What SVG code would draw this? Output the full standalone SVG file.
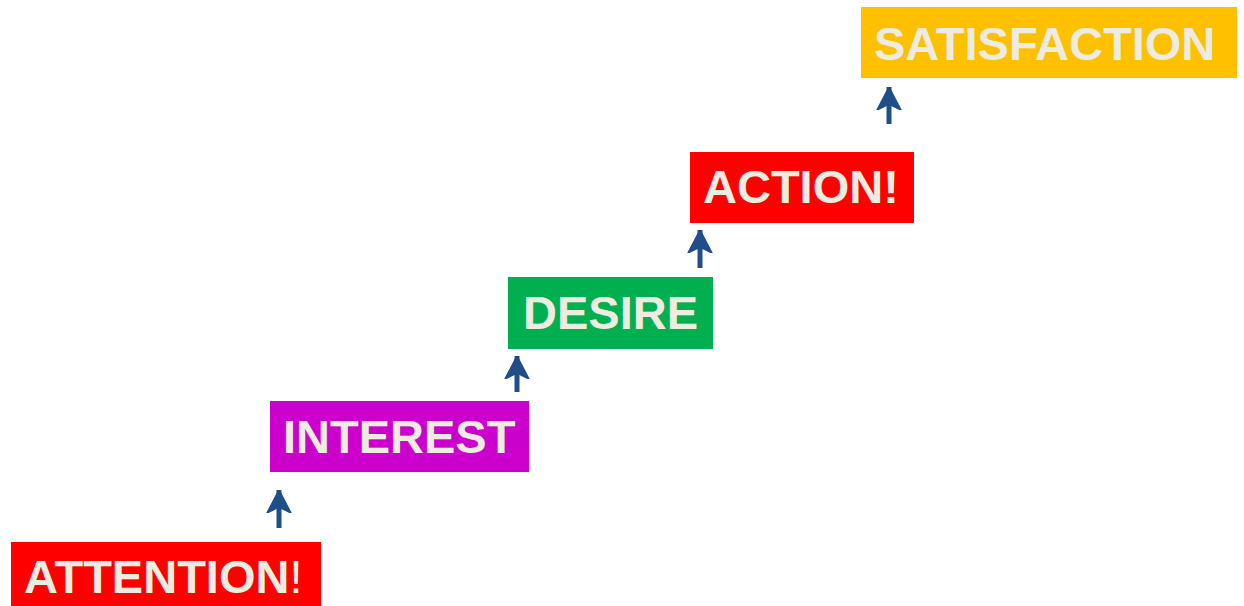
<svg xmlns="http://www.w3.org/2000/svg" width="1244" height="606" viewBox="0 0 1244 606">
  <style>
    .lbl { font-family: "Liberation Sans", Arial, sans-serif; font-weight: bold; font-size: 47px; fill: #EEECE1; }
    .thin { font-weight: normal; }
    .arrow { stroke: #1F4E89; stroke-width: 5; fill: none; marker-end: url(#head); }
  </style>
  <defs>
    <marker id="head" markerUnits="userSpaceOnUse" viewBox="0 0 23 26" markerWidth="23" markerHeight="26" refX="23" refY="13" orient="auto">
      <path d="M23,13 L0,1 L6,13 L0,25 Z" fill="#1F4E89" stroke="#1F4E89" stroke-width="1.5" stroke-linejoin="round"/>
    </marker>
  </defs>
  <rect width="1244" height="606" fill="#FFFFFF"/>

  <g id="connectors">
    <line class="arrow" x1="279" y1="528" x2="279" y2="490"/>
    <line class="arrow" x1="517" y1="392" x2="517" y2="356"/>
    <line class="arrow" x1="700" y1="268" x2="700" y2="230"/>
    <line class="arrow" x1="889" y1="124" x2="889" y2="87"/>
  </g>

  <g id="attention">
    <rect x="11" y="542" width="310" height="64" fill="#FF0000"/>
    <text class="lbl" x="24" y="593">ATTENTION<tspan class="thin">!</tspan></text>
  </g>

  <g id="interest">
    <rect x="270" y="401" width="259" height="71" fill="#CC00CC"/>
    <text class="lbl" x="283" y="453">INTEREST</text>
  </g>

  <g id="desire">
    <rect x="508" y="277" width="205" height="72" fill="#00B050"/>
    <text class="lbl" x="523" y="329">DESIRE</text>
  </g>

  <g id="action">
    <rect x="690" y="152" width="224" height="71" fill="#FF0000"/>
    <text class="lbl" x="703" y="203">ACTION!</text>
  </g>

  <g id="satisfaction">
    <rect x="861" y="7" width="376" height="71" fill="#FFC000"/>
    <text class="lbl" x="874" y="60">SATISFACTION</text>
  </g>
</svg>
